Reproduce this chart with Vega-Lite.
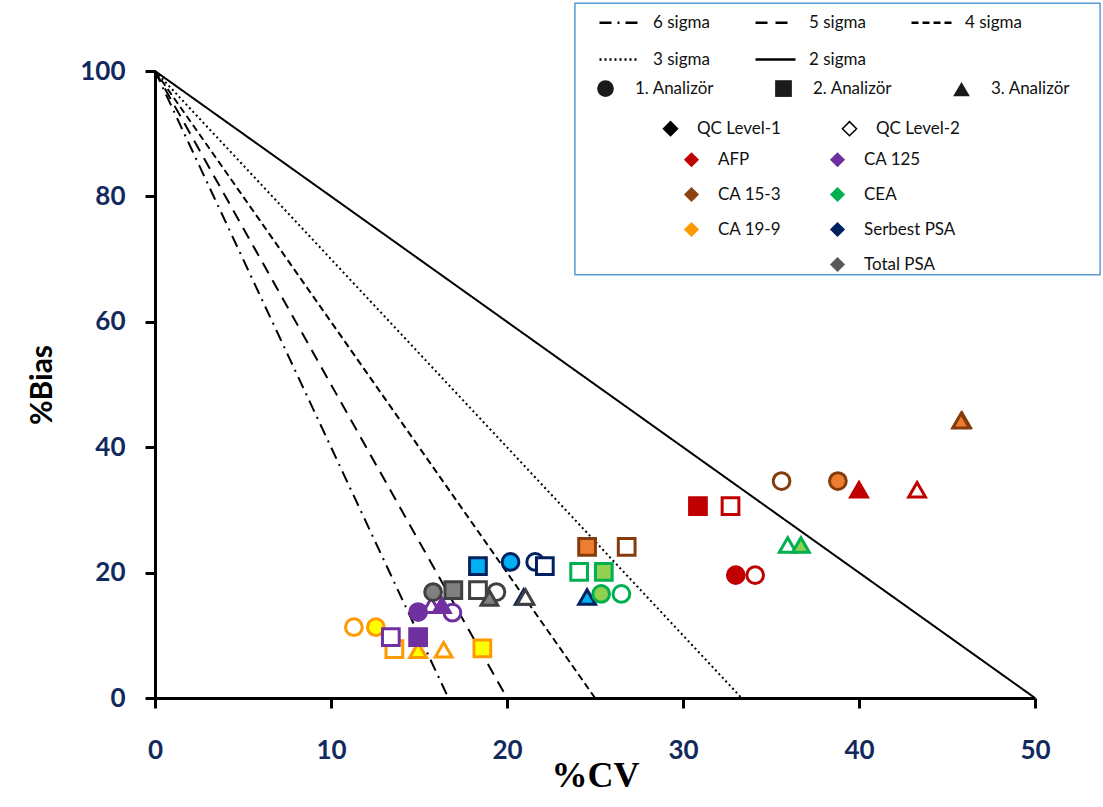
{
  "$schema": "https://vega.github.io/schema/vega-lite/v6.json",
  "width": 880,
  "height": 627,
  "autosize": {"type": "none"},
  "padding": {"left": 155, "top": 71, "right": 68, "bottom": 109},
  "background": "white",
  "config": {
    "view": {"stroke": null},
    "font": "Lato",
    "legend": {"labelFont": "Lato", "labelFontSize": 17, "labelColor": "#111111", "padding": 0}
  },
  "resolve": {"scale": {"fill": "independent", "shape": "independent"}},
  "datasets": {
    "sigma": [
      {"sigma": "6 sigma", "cv": 0, "bias": 100}, {"sigma": "6 sigma", "cv": 16.67, "bias": 0},
      {"sigma": "5 sigma", "cv": 0, "bias": 100}, {"sigma": "5 sigma", "cv": 20, "bias": 0},
      {"sigma": "4 sigma", "cv": 0, "bias": 100}, {"sigma": "4 sigma", "cv": 25, "bias": 0},
      {"sigma": "3 sigma", "cv": 0, "bias": 100}, {"sigma": "3 sigma", "cv": 33.33, "bias": 0},
      {"sigma": "2 sigma", "cv": 0, "bias": 100}, {"sigma": "2 sigma", "cv": 50, "bias": 0}
    ],
    "qc": [
      {"analyte": "CA 19-9", "analyzer": "1. Analizör", "level": "QC Level-2", "cv": 11.3, "bias": 11.3},
      {"analyte": "CA 19-9", "analyzer": "1. Analizör", "level": "QC Level-1", "cv": 12.55, "bias": 11.3},
      {"analyte": "CA 19-9", "analyzer": "2. Analizör", "level": "QC Level-2", "cv": 13.6, "bias": 7.8},
      {"analyte": "CA 19-9", "analyzer": "2. Analizör", "level": "QC Level-1", "cv": 18.6, "bias": 7.9},
      {"analyte": "CA 19-9", "analyzer": "3. Analizör", "level": "QC Level-1", "cv": 14.95, "bias": 7.6},
      {"analyte": "CA 19-9", "analyzer": "3. Analizör", "level": "QC Level-2", "cv": 16.4, "bias": 7.7},
      {"analyte": "CA 125", "analyzer": "1. Analizör", "level": "QC Level-2", "cv": 16.9, "bias": 13.6},
      {"analyte": "CA 125", "analyzer": "3. Analizör", "level": "QC Level-2", "cv": 15.7, "bias": 14.8},
      {"analyte": "CA 125", "analyzer": "3. Analizör", "level": "QC Level-1", "cv": 16.3, "bias": 14.8},
      {"analyte": "CA 125", "analyzer": "1. Analizör", "level": "QC Level-1", "cv": 14.95, "bias": 13.7},
      {"analyte": "CA 125", "analyzer": "2. Analizör", "level": "QC Level-2", "cv": 13.4, "bias": 9.7},
      {"analyte": "CA 125", "analyzer": "2. Analizör", "level": "QC Level-1", "cv": 14.95, "bias": 9.7},
      {"analyte": "Serbest PSA", "analyzer": "1. Analizör", "level": "QC Level-1", "cv": 20.2, "bias": 21.7},
      {"analyte": "Serbest PSA", "analyzer": "1. Analizör", "level": "QC Level-2", "cv": 21.6, "bias": 21.7},
      {"analyte": "Serbest PSA", "analyzer": "2. Analizör", "level": "QC Level-1", "cv": 18.35, "bias": 21.05},
      {"analyte": "Serbest PSA", "analyzer": "2. Analizör", "level": "QC Level-2", "cv": 22.15, "bias": 21.05},
      {"analyte": "Serbest PSA", "analyzer": "3. Analizör", "level": "QC Level-1", "cv": 24.55, "bias": 16.1},
      {"analyte": "Serbest PSA", "analyzer": "3. Analizör", "level": "QC Level-2", "cv": 20.95, "bias": 16.1},
      {"analyte": "Total PSA", "analyzer": "1. Analizör", "level": "QC Level-1", "cv": 15.8, "bias": 16.9},
      {"analyte": "Total PSA", "analyzer": "1. Analizör", "level": "QC Level-2", "cv": 19.4, "bias": 16.9},
      {"analyte": "Total PSA", "analyzer": "2. Analizör", "level": "QC Level-1", "cv": 16.95, "bias": 17.2},
      {"analyte": "Total PSA", "analyzer": "2. Analizör", "level": "QC Level-2", "cv": 18.35, "bias": 17.2},
      {"analyte": "Total PSA", "analyzer": "3. Analizör", "level": "QC Level-1", "cv": 19.0, "bias": 15.95},
      {"analyte": "Total PSA", "analyzer": "3. Analizör", "level": "QC Level-2", "cv": 21.05, "bias": 16.1},
      {"analyte": "CEA", "analyzer": "1. Analizör", "level": "QC Level-1", "cv": 25.35, "bias": 16.6},
      {"analyte": "CEA", "analyzer": "1. Analizör", "level": "QC Level-2", "cv": 26.5, "bias": 16.6},
      {"analyte": "CEA", "analyzer": "2. Analizör", "level": "QC Level-2", "cv": 24.1, "bias": 20.1},
      {"analyte": "CEA", "analyzer": "2. Analizör", "level": "QC Level-1", "cv": 25.5, "bias": 20.1},
      {"analyte": "CEA", "analyzer": "3. Analizör", "level": "QC Level-2", "cv": 35.95, "bias": 24.4},
      {"analyte": "CEA", "analyzer": "3. Analizör", "level": "QC Level-1", "cv": 36.7, "bias": 24.4},
      {"analyte": "CA 15-3", "analyzer": "1. Analizör", "level": "QC Level-2", "cv": 35.6, "bias": 34.6},
      {"analyte": "CA 15-3", "analyzer": "1. Analizör", "level": "QC Level-1", "cv": 38.8, "bias": 34.6},
      {"analyte": "CA 15-3", "analyzer": "2. Analizör", "level": "QC Level-1", "cv": 24.55, "bias": 24.1},
      {"analyte": "CA 15-3", "analyzer": "2. Analizör", "level": "QC Level-2", "cv": 26.8, "bias": 24.1},
      {"analyte": "CA 15-3", "analyzer": "3. Analizör", "level": "QC Level-2", "cv": 45.85, "bias": 44.3},
      {"analyte": "CA 15-3", "analyzer": "3. Analizör", "level": "QC Level-1", "cv": 45.8, "bias": 44.2},
      {"analyte": "AFP", "analyzer": "1. Analizör", "level": "QC Level-1", "cv": 33.0, "bias": 19.6},
      {"analyte": "AFP", "analyzer": "1. Analizör", "level": "QC Level-2", "cv": 34.1, "bias": 19.6},
      {"analyte": "AFP", "analyzer": "2. Analizör", "level": "QC Level-1", "cv": 30.85, "bias": 30.6},
      {"analyte": "AFP", "analyzer": "2. Analizör", "level": "QC Level-2", "cv": 32.7, "bias": 30.6},
      {"analyte": "AFP", "analyzer": "3. Analizör", "level": "QC Level-1", "cv": 40.0, "bias": 33.2},
      {"analyte": "AFP", "analyzer": "3. Analizör", "level": "QC Level-2", "cv": 43.3, "bias": 33.2}
    ]
  },
  "layer": [
    {
      "data": {"values": [{}]},
      "mark": {"type": "rect", "fill": "white", "stroke": "#5B9BD5", "strokeWidth": 1.5},
      "encoding": {
        "x": {"datum": 23.86, "type": "quantitative", "scale": {"domain": [0, 50], "nice": false}},
        "x2": {"datum": 53.7},
        "y": {"datum": 110.8, "type": "quantitative", "scale": {"domain": [0, 100], "nice": false}},
        "y2": {"datum": 67.5}
      }
    },
    {
      "data": {"name": "sigma"},
      "mark": {"type": "line", "color": "black", "strokeWidth": 2},
      "encoding": {
        "x": {
          "field": "cv", "type": "quantitative",
          "scale": {"domain": [0, 50], "nice": false},
          "axis": {
            "title": "%CV", "values": [0, 10, 20, 30, 40, 50], "grid": false,
            "domainColor": "black", "domainWidth": 3, "tickColor": "black", "tickWidth": 3, "tickSize": 10,
            "labelFont": "Lato", "labelFontWeight": "bold", "labelFontSize": 26, "labelColor": "#12295E",
            "labelPadding": 29, "labelFlush": false, "labelOverlap": false,
            "titleFont": "Liberation Serif", "titleFontSize": 36, "titleFontWeight": "bold", "titleColor": "black",
            "titleY": 77, "titleBaseline": "middle"
          }
        },
        "y": {
          "field": "bias", "type": "quantitative",
          "scale": {"domain": [0, 100], "nice": false},
          "axis": {
            "title": "%Bias", "values": [0, 20, 40, 60, 80, 100], "grid": false,
            "domainColor": "black", "domainWidth": 3, "tickColor": "black", "tickWidth": 3, "tickSize": 10,
            "labelFont": "Lato", "labelFontWeight": "bold", "labelFontSize": 26, "labelColor": "#12295E",
            "labelPadding": 20, "labelFlush": false, "labelOverlap": false,
            "titleFont": "Lato", "titleFontSize": 30, "titleFontWeight": "bold", "titleColor": "black",
            "titleX": -113, "titleBaseline": "middle"
          }
        },
        "strokeDash": {
          "field": "sigma", "type": "nominal",
          "scale": {
            "domain": ["6 sigma", "5 sigma", "4 sigma", "3 sigma", "2 sigma"],
            "range": [[12, 6, 2, 6], [12, 8], [7, 4], [2, 3], [1, 0]]
          },
          "legend": {
            "orient": "none", "legendX": 443, "legendY": -70, "columns": 3, "direction": "horizontal",
            "title": null, "symbolType": "stroke", "symbolSize": 1600, "symbolStrokeColor": "black",
            "symbolStrokeWidth": 2.5, "columnPadding": 40, "rowPadding": 7, "labelOffset": 12
          }
        }
      }
    },
    {
      "data": {"name": "qc"},
      "mark": {"type": "point", "filled": true, "fill": "#1a1a1a", "stroke": "black", "strokeWidth": 1.5, "opacity": 0},
      "encoding": {
        "x": {"field": "cv", "type": "quantitative", "scale": {"domain": [0, 50], "nice": false}},
        "y": {"field": "bias", "type": "quantitative", "scale": {"domain": [0, 100], "nice": false}},
        "shape": {
          "field": "analyzer", "type": "nominal",
          "scale": {"domain": ["1. Analizör", "2. Analizör", "3. Analizör"], "range": ["circle", "square", "triangle-up"]},
          "legend": {
            "orient": "none", "legendX": 441, "legendY": 8, "columns": 3, "direction": "horizontal",
            "title": null, "symbolSize": 280, "symbolFillColor": "#1a1a1a", "symbolStrokeColor": "black",
            "symbolStrokeWidth": 1.5, "symbolOpacity": 1, "columnPadding": 57, "labelOffset": 20
          }
        }
      }
    },
    {
      "data": {"name": "qc"},
      "mark": {"type": "point", "filled": true, "shape": "diamond", "opacity": 0},
      "encoding": {
        "x": {"field": "cv", "type": "quantitative", "scale": {"domain": [0, 50], "nice": false}},
        "y": {"field": "bias", "type": "quantitative", "scale": {"domain": [0, 100], "nice": false}},
        "fill": {
          "field": "level", "type": "nominal",
          "scale": {"domain": ["QC Level-1", "QC Level-2"], "range": ["black", "white"]},
          "legend": {
            "orient": "none", "legendX": 507, "legendY": 49, "columns": 2, "direction": "horizontal",
            "title": null, "symbolType": "diamond", "symbolSize": 200, "symbolStrokeColor": "black",
            "symbolStrokeWidth": 1.5, "symbolOpacity": 1, "columnPadding": 58, "labelOffset": 18
          }
        }
      }
    },
    {
      "data": {"name": "qc"},
      "mark": {"type": "point", "filled": true, "shape": "diamond", "opacity": 0},
      "encoding": {
        "x": {"field": "cv", "type": "quantitative", "scale": {"domain": [0, 50], "nice": false}},
        "y": {"field": "bias", "type": "quantitative", "scale": {"domain": [0, 100], "nice": false}},
        "fill": {
          "field": "analyte", "type": "nominal",
          "scale": {
            "domain": ["AFP", "CA 125", "CA 15-3", "CEA", "CA 19-9", "Serbest PSA", " ", "Total PSA"],
            "range": ["#C00000", "#7030A0", "#8B4513", "#00B050", "#FF9900", "#002060", "transparent", "#595959"]
          },
          "legend": {
            "orient": "none", "legendX": 528, "legendY": 80, "columns": 2, "direction": "horizontal",
            "title": null, "symbolType": "diamond", "symbolSize": 230, "symbolOpacity": 1, "symbolStrokeWidth": 0,
            "rowPadding": 17, "columnPadding": 47, "labelOffset": 18
          }
        }
      }
    },
    {
      "data": {"name": "qc"},
      "mark": {"type": "point", "filled": true, "size": 280, "strokeWidth": 3, "opacity": 1},
      "encoding": {
        "x": {"field": "cv", "type": "quantitative", "scale": {"domain": [0, 50], "nice": false}},
        "y": {"field": "bias", "type": "quantitative", "scale": {"domain": [0, 100], "nice": false}},
        "shape": {
          "field": "analyzer", "type": "nominal",
          "scale": {"domain": ["1. Analizör", "2. Analizör", "3. Analizör"], "range": ["circle", "square", "triangle-up"]},
          "legend": null
        },
        "stroke": {
          "field": "analyte", "type": "nominal",
          "scale": {
            "domain": ["AFP", "CA 125", "CA 15-3", "CEA", "CA 19-9", "Serbest PSA", "Total PSA"],
            "range": ["#C00000", "#7030A0", "#843C0C", "#00B050", "#FF9900", "#002060", "#404040"]
          },
          "legend": null
        },
        "fill": {
          "condition": {"test": "datum.level === 'QC Level-2'", "value": "white"},
          "field": "analyte", "type": "nominal",
          "scale": {
            "domain": ["AFP", "CA 125", "CA 15-3", "CEA", "CA 19-9", "Serbest PSA", "Total PSA"],
            "range": ["#C00000", "#7030A0", "#ED7D31", "#92D050", "#FFFF00", "#00B0F0", "#808080"]
          },
          "legend": null
        }
      }
    }
  ]
}
